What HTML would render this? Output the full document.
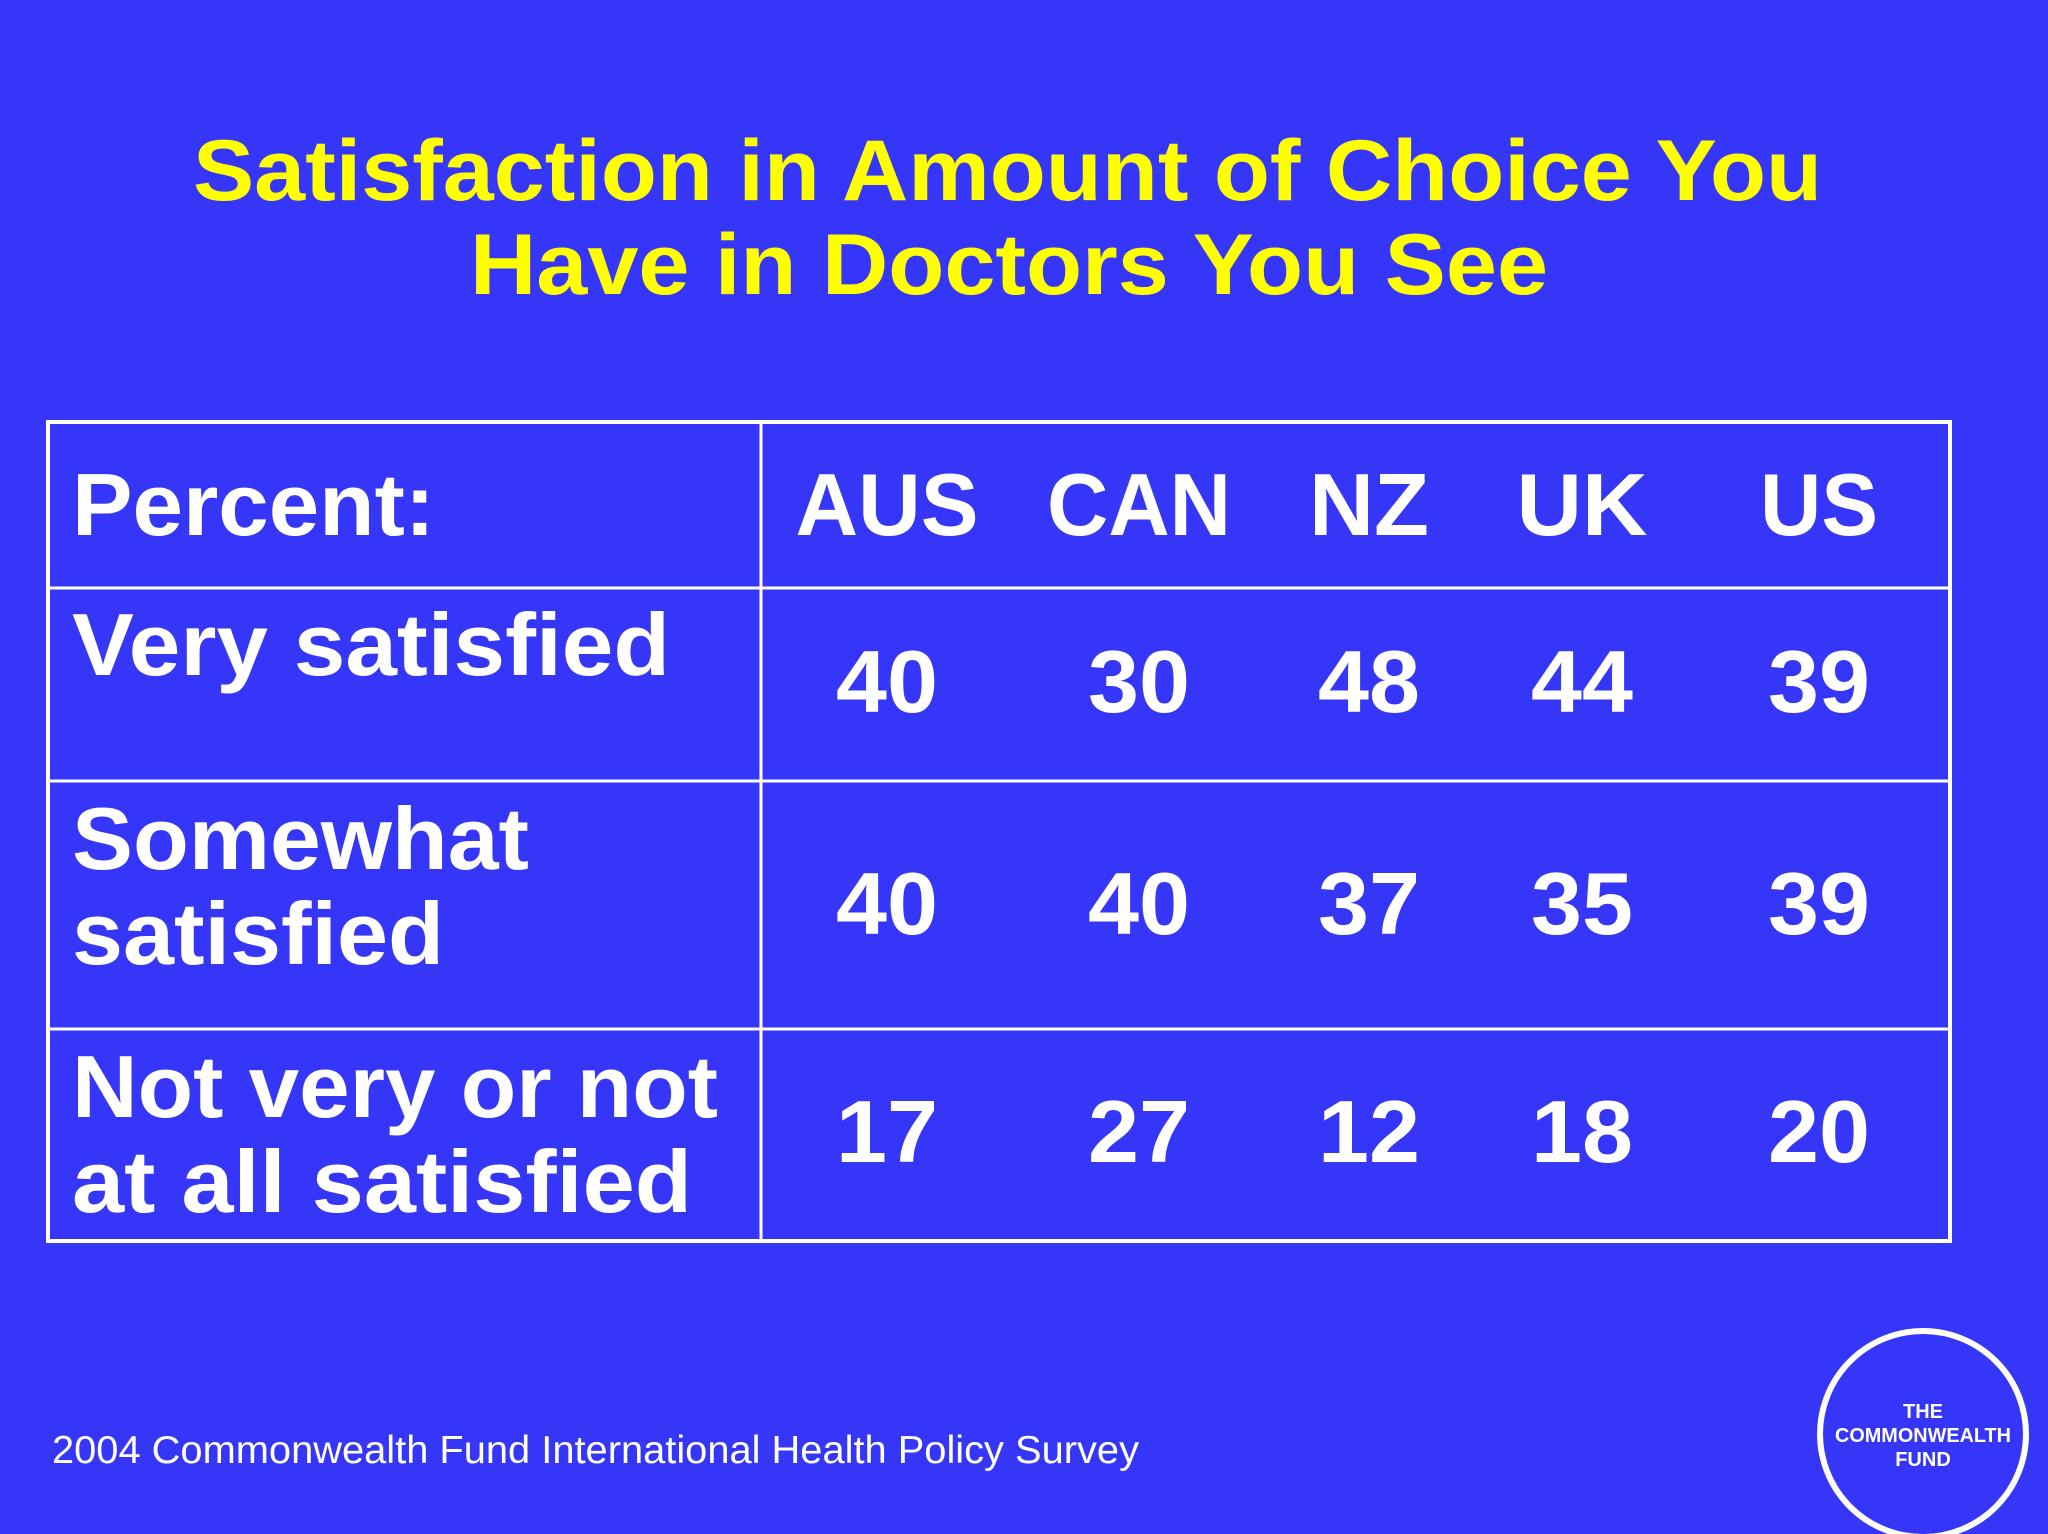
<!DOCTYPE html>
<html><head><meta charset="utf-8"><style>
html,body{margin:0;padding:0;background:#3636F8;}
svg{display:block;font-family:"Liberation Sans",sans-serif;font-weight:bold;}
</style></head><body>
<svg width="2048" height="1534" viewBox="0 0 2048 1534">
<rect width="2048" height="1534" fill="#3636F8"/>
<g fill="#FFFF00" font-size="86">
<text x="193" y="200" textLength="1629" lengthAdjust="spacingAndGlyphs">Satisfaction in Amount of Choice You</text>
<text x="470" y="294" textLength="1078" lengthAdjust="spacingAndGlyphs">Have in Doctors You See</text>
</g>
<g id="table"></g>
<text x="52" y="1463" fill="#fff" font-size="39" font-weight="normal" textLength="1087" lengthAdjust="spacingAndGlyphs">2004 Commonwealth Fund International Health Policy Survey</text>
<g>
<circle cx="1923" cy="1434" r="103" fill="none" stroke="#fff" stroke-width="6"/>
<g fill="#fff" font-size="20" text-anchor="middle">
<text x="1923" y="1418">THE</text>
<text x="1923" y="1442" textLength="176" lengthAdjust="spacingAndGlyphs">COMMONWEALTH</text>
<text x="1923" y="1466">FUND</text>
</g></g>
</svg>
<script>
const countries=["AUS","CAN","NZ","UK","US"];
const rowLabels=[["Very satisfied"],["Somewhat","satisfied"],["Not very or not","at all satisfied"]];
const veryVals=[40,30,48,44,39];
const somewhatVals=[40,40,37,35,39];
const notVals=[17,27,12,18,20];
const NS="http://www.w3.org/2000/svg";
const g=document.getElementById('table');
function mk(tag,attrs,txt){const e=document.createElementNS(NS,tag);for(const k in attrs)e.setAttribute(k,attrs[k]);if(txt!==undefined)e.textContent=txt;g.appendChild(e);return e;}
const L=48,R=1950,T=422,B=1241,D=761;
const hLines=[588,781,1029];
const colX=[887,1139,1369,1582,1819];
const headW=[183,184,120,131,118];
let r=mk('rect',{x:L,y:T,width:R-L,height:B-T,fill:'none',stroke:'#fff','stroke-width':4});


let l=mk('line',{x1:D,y1:T,x2:D,y2:B,stroke:'#fff','stroke-width':3});


hLines.forEach(y=>{const e=mk('line',{x1:L,y1:y,x2:R,y2:y,stroke:'#fff','stroke-width':3});

});
let p=mk('text',{x:72,y:535,fill:'#fff','font-size':88,textLength:363,lengthAdjust:'spacingAndGlyphs'},'Percent:');


countries.forEach((c,i)=>{const e=mk('text',{x:colX[i]-headW[i]/2,y:535,fill:'#fff','font-size':88,textLength:headW[i],lengthAdjust:'spacingAndGlyphs'},c);

});
const labelPos=[[[675,598]],[[869,457],[964,372]],[[1117,646],[1212,620]]];
rowLabels.forEach((lines,ri)=>lines.forEach((t,li)=>{const e=mk('text',{x:72,y:labelPos[ri][li][0],fill:'#fff','font-size':88,textLength:labelPos[ri][li][1],lengthAdjust:'spacingAndGlyphs'},t);

}));
const series=[veryVals,somewhatVals,notVals];
const valY=[712,934,1162];
series.forEach((vals,ri)=>vals.forEach((v,i)=>{const e=mk('text',{x:colX[i],y:valY[ri],fill:'#fff','font-size':88,'text-anchor':'middle',textLength:102,lengthAdjust:'spacingAndGlyphs'},String(v));

}));
</script>
</body></html>
